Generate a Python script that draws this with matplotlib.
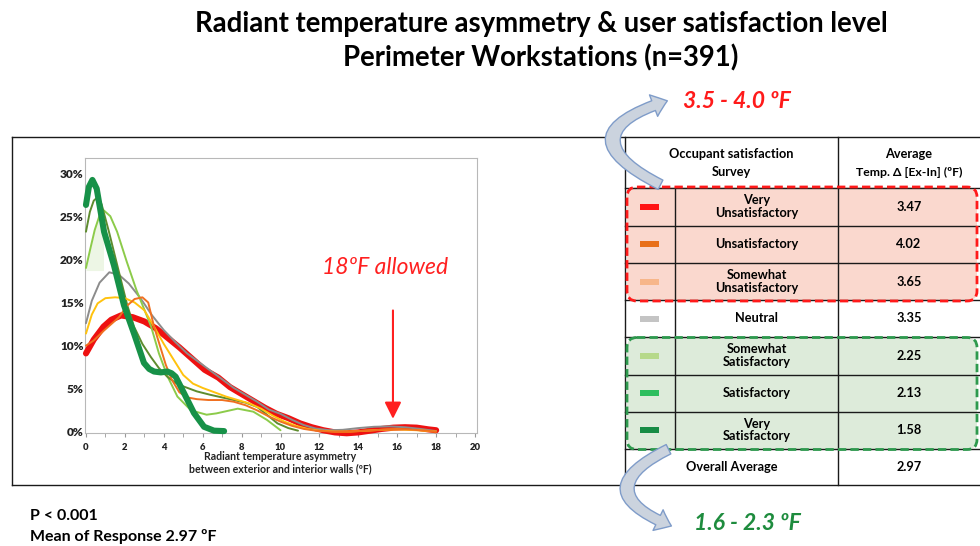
import matplotlib
matplotlib.use("Agg")
import matplotlib.pyplot as plt
from matplotlib.patches import FancyBboxPatch, FancyArrowPatch, Rectangle

plt.rcParams['font.family'] = ['Lato', 'DejaVu Sans']

# ---- density curves (x in degF, y in %) ----
x_very_unsat = [0, 0.4, 0.9, 1.3, 1.8, 2.4, 3.0, 3.6, 4.2, 4.8, 5.5, 6.1, 6.8, 7.4, 8.0, 8.6,
                9.2, 9.8, 10.4, 11.0, 11.6, 12.2, 12.8, 13.4, 14.0, 14.6, 15.2, 15.8, 16.4,
                17.0, 17.6, 18.0]
y_very_unsat = [9.1, 10.7, 12.2, 13.0, 13.5, 13.3, 12.8, 12.0, 10.9, 9.8, 8.4, 7.2, 6.3, 5.2,
                4.4, 3.6, 2.8, 2.1, 1.6, 1.0, 0.55, 0.2, -0.05, -0.15, -0.05, 0.15, 0.35, 0.5,
                0.55, 0.5, 0.3, 0.2]

x_unsat = [0, 0.4, 0.9, 1.3, 1.7, 2.1, 2.5, 2.9, 3.2, 3.5, 3.8, 4.1, 4.4, 4.8, 5.2, 5.7, 6.3,
           7.0, 7.6, 8.2, 8.8, 9.4, 10.0, 10.6, 11.2, 11.8, 12.6, 13.5, 14.5, 15.5, 16.5,
           17.5, 18.0]
y_unsat = [10.0, 10.6, 11.7, 12.5, 13.3, 14.6, 15.4, 15.6, 15.0, 12.2, 10.0, 7.8, 6.1, 4.6,
           4.0, 3.8, 3.7, 3.7, 3.5, 3.1, 2.5, 1.8, 1.2, 0.7, 0.35, 0.15, 0.05, 0.05, 0.15,
           0.3, 0.3, 0.15, 0.05]

x_smw_unsat = [0, 0.3, 0.6, 1.0, 1.5, 2.0, 2.5, 3.0, 3.5, 4.0, 4.5, 5.0, 5.5, 6.0, 6.6, 7.2,
               7.8, 8.4, 9.0, 9.6, 10.2, 10.8, 11.4, 12.0, 12.8, 13.6, 14.4, 15.2, 16.0,
               17.0, 18.0]
y_smw_unsat = [11.4, 13.6, 14.9, 15.5, 15.6, 15.5, 15.0, 14.1, 12.2, 10.2, 8.4, 6.6, 5.6,
               5.1, 4.6, 4.1, 3.7, 3.3, 2.7, 1.9, 1.2, 0.7, 0.35, 0.15, 0.05, 0.05, 0.15,
               0.25, 0.3, 0.2, 0.05]

x_neutral = [0, 0.3, 0.7, 1.2, 1.7, 2.2, 2.8, 3.4, 4.0, 4.6, 5.2, 5.8, 6.4, 7.0, 7.6, 8.2,
             8.8, 9.4, 10.0, 10.6, 11.2, 11.8, 12.5, 13.2, 14.0, 14.8, 15.6, 16.4, 17.2, 18.0]
y_neutral = [12.6, 15.2, 17.3, 18.5, 18.2, 17.2, 15.5, 13.5, 11.8, 10.4, 9.1, 8.1, 7.1, 6.1,
             5.1, 4.3, 3.5, 2.6, 2.1, 1.4, 0.8, 0.4, 0.2, 0.25, 0.45, 0.6, 0.65, 0.55, 0.35,
             0.1]

x_smw_sat = [0, 0.2, 0.45, 0.7, 0.9, 1.25, 1.6, 2.1, 2.6, 3.05, 3.35, 3.75, 4.2, 4.7, 5.4,
             6.2, 6.7, 7.1, 7.8, 8.6, 9.3, 10.0]
y_smw_sat = [19.0, 21.0, 23.4, 25.1, 25.7, 25.0, 23.2, 19.7, 16.4, 13.9, 12.2, 9.1, 6.4,
             4.1, 2.5, 2.0, 2.15, 2.35, 2.7, 2.35, 1.4, 0.2]

x_sat = [0, 0.2, 0.4, 0.55, 0.8, 1.18, 1.61, 2.12, 2.47, 2.9, 3.33, 3.75, 4.18, 4.6, 5.04,
         5.7, 6.4, 7.0, 7.6, 8.2, 8.8, 9.3, 9.84, 10.4, 10.9]
y_sat = [23.2, 25.5, 26.8, 27.1, 26.4, 23.2, 19.3, 14.7, 12.2, 10.2, 8.7, 7.4, 6.4, 5.7,
         5.25, 4.7, 4.3, 4.0, 3.7, 3.4, 2.9, 2.0, 1.0, 0.45, 0.15]

x_very_sat = [0, 0.15, 0.33, 0.55, 0.93, 1.44, 1.95, 2.47, 2.98, 3.25, 3.5, 3.85, 4.18, 4.4,
              4.61, 5.04, 5.55, 6.07, 6.58, 7.1]
y_very_sat = [26.3, 28.4, 29.2, 28.2, 23.2, 19.3, 14.7, 11.4, 8.0, 7.3, 7.0, 6.9, 7.0, 6.8,
              6.4, 4.5, 2.2, 0.6, 0.15, 0.1]

# ---- table ----
categories = ["Very\nUnsatisfactory", "Unsatisfactory", "Somewhat\nUnsatisfactory", "Neutral",
              "Somewhat\nSatisfactory", "Satisfactory", "Very\nSatisfactory"]
avg_temp = [3.47, 4.02, 3.65, 3.35, 2.25, 2.13, 1.58]
overall_avg = 2.97
swatch_colors = ['#FF1414', '#E8701A', '#F7B68A', '#C4C4C4', '#B6D98A', '#2DBE5E', '#178C45']

curves = [
    (x_very_unsat, y_very_unsat, '#EE1111', 4.4),
    (x_neutral, y_neutral, '#8C8C8C', 1.4),
    (x_smw_sat, y_smw_sat, '#8CCB4A', 1.4),
    (x_sat, y_sat, '#5E8C2E', 1.4),
    (x_smw_unsat, y_smw_unsat, '#FFC20E', 1.4),
    (x_unsat, y_unsat, '#F07020', 1.4),
    (x_very_sat, y_very_sat, '#179148', 4.4),
]

W, H = 980, 546
fig = plt.figure(figsize=(W / 100, H / 100), dpi=100)

bg = fig.add_axes([0, 0, 1, 1])
bg.set_xlim(0, W)
bg.set_ylim(H, 0)
bg.axis('off')

# title
bg.text(541, 24, "Radiant temperature asymmetry & user satisfaction level",
        ha='center', va='center', fontsize=19.8, fontweight='bold')
bg.text(541, 58, "Perimeter Workstations (n=391)",
        ha='center', va='center', fontsize=19.8, fontweight='bold')

# ---- chart ----
left, right, top, bottom = 85, 477, 158, 433
ax = fig.add_axes([left / W, 1 - bottom / H, (right - left) / W, (bottom - top) / H])
ax.set_xlim(-0.05, 20.1)
ax.set_ylim(-0.12, 31.74)

# faint fill seen under the light-green curve
ax.fill_between(x_smw_sat[:5], 18.7, y_smw_sat[:5], color='#EDF6E5', zorder=1, lw=0)

for xs, ys, c, lw in curves:
    ax.plot(xs, ys, color=c, lw=lw, solid_capstyle='round', solid_joinstyle='round',
            zorder=3, clip_on=False)

for s in ax.spines.values():
    s.set_color('#B8B8B8')
    s.set_linewidth(0.8)
ax.set_xticks(range(0, 21, 2))
ax.set_xticks(range(1, 21, 2), minor=True)
ax.set_yticks(range(0, 31, 5))
ax.set_yticklabels([f"{v}%" for v in range(0, 31, 5)])
ax.tick_params(axis='x', which='both', length=3, color='#999999', pad=4,
               labelsize=6.8, direction='out')
ax.tick_params(axis='y', length=0, pad=1, labelsize=8.6)
for lab in ax.get_xticklabels() + ax.get_yticklabels():
    lab.set_fontweight('heavy')
    lab.set_color('#222222')

ax.annotate("", xy=(15.78, 1.2), xytext=(15.78, 14.4),
            arrowprops=dict(arrowstyle='-|>,head_width=0.5,head_length=1.0',
                            color='#FF2020', lw=1.5))
ax.text(15.35, 19.0, "18ºF allowed", color='#FF2020', fontsize=16.5, style='italic',
        ha='center', va='center')

bg.text(280, 456, "Radiant temperature asymmetry", ha='center', va='center',
        fontsize=7.6, fontweight='bold', color='#222222')
bg.text(280, 469, "between exterior and interior walls (ºF)", ha='center', va='center',
        fontsize=7.6, fontweight='bold', color='#222222')

bg.text(30, 516, "P < 0.001", ha='left', va='center', fontsize=11.5, fontweight='bold')
bg.text(30, 537, "Mean of Response 2.97 ºF", ha='left', va='center', fontsize=11.5,
        fontweight='bold')

# ---- frame and table ----
lc = '#1A1A1A'
lwid = 1.0
row_edges = [188, 225.5, 263, 300, 337, 374.5, 411.5, 448.5, 485]
c0, c1, c2, c3 = 625, 675, 838, 980

# shaded groups (drawn under the grid)
bg.add_patch(FancyBboxPatch((627, 187), 350, 114, boxstyle="round,pad=0,rounding_size=10",
                            facecolor='#FAD8CE', edgecolor='none', zorder=1))
bg.add_patch(FancyBboxPatch((627, 337.5), 350, 112, boxstyle="round,pad=0,rounding_size=10",
                            facecolor='#DDEBDA', edgecolor='none', zorder=1))

bg.plot([12, W], [137, 137], color=lc, lw=lwid, zorder=2)
bg.plot([12, W], [485, 485], color=lc, lw=lwid, zorder=2)
bg.plot([12, 12], [137, 485], color=lc, lw=lwid, zorder=2)
for xv in (c0, c2):
    bg.plot([xv, xv], [137, 485], color=lc, lw=lwid, zorder=2)
bg.plot([c1, c1], [row_edges[0], row_edges[-2]], color=lc, lw=lwid, zorder=2)
for yv in row_edges[:-1]:
    bg.plot([c0, c3], [yv, yv], color=lc, lw=lwid, zorder=2)

tfs = 9.2
bg.text((c0 + c2) / 2, 154, "Occupant satisfaction", ha='center', va='center',
        fontsize=tfs, fontweight='bold', zorder=4)
bg.text((c0 + c2) / 2, 172, "Survey", ha='center', va='center', fontsize=tfs,
        fontweight='bold', zorder=4)
bg.text((c2 + c3) / 2, 154, "Average", ha='center', va='center', fontsize=tfs,
        fontweight='bold', zorder=4)
bg.text((c2 + c3) / 2, 172, "Temp. Δ [Ex-In] (ºF)", ha='center', va='center',
        fontsize=tfs - 0.4, fontweight='bold', zorder=4)

for i, (cat, val, sc) in enumerate(zip(categories, avg_temp, swatch_colors)):
    yc = (row_edges[i] + row_edges[i + 1]) / 2
    bg.add_patch(Rectangle((640, yc - 3), 19, 6, facecolor=sc, edgecolor='none', zorder=4))
    bg.text((c1 + c2) / 2, yc, cat, ha='center', va='center', fontsize=tfs,
            fontweight='bold', linespacing=1.1, zorder=4)
    bg.text((c2 + c3) / 2, yc, f"{val:.2f}", ha='center', va='center', fontsize=tfs,
            fontweight='bold', zorder=4)

yc = (row_edges[-2] + row_edges[-1]) / 2
bg.text((c0 + c2) / 2, yc, "Overall Average", ha='center', va='center', fontsize=tfs,
        fontweight='bold', zorder=4)
bg.text((c2 + c3) / 2, yc, f"{overall_avg:.2f}", ha='center', va='center', fontsize=tfs,
        fontweight='bold', zorder=4)

# dashed group outlines
bg.add_patch(FancyBboxPatch((627, 187), 350, 114, boxstyle="round,pad=0,rounding_size=10",
                            facecolor='none', edgecolor='#FF1A1A', lw=2.0,
                            linestyle=(0, (3, 1.5)), zorder=5))
bg.add_patch(FancyBboxPatch((627, 337.5), 350, 112, boxstyle="round,pad=0,rounding_size=10",
                            facecolor='none', edgecolor='#2E9A4E', lw=2.0,
                            linestyle=(0, (3, 1.5)), zorder=5))

# curved callout arrows
astyle = "simple,head_length=0.7,head_width=1.1,tail_width=0.5"
bg.add_patch(FancyArrowPatch((663, 186), (670, 100), connectionstyle="arc3,rad=-1.25",
                             arrowstyle=astyle, mutation_scale=15, facecolor='#CBD3DE',
                             edgecolor='#7F9CC9', lw=1.0, zorder=6))
bg.add_patch(FancyArrowPatch((671, 448), (674, 527), connectionstyle="arc3,rad=1.15",
                             arrowstyle=astyle, mutation_scale=15, facecolor='#CBD3DE',
                             edgecolor='#7F9CC9', lw=1.0, zorder=6))

bg.text(683, 101, "3.5 - 4.0 ºF", ha='left', va='center', fontsize=16.5, fontweight='bold',
        style='italic', color='#FF1A1A')
bg.text(694, 524, "1.6 - 2.3 ºF", ha='left', va='center', fontsize=16.5, fontweight='bold',
        style='italic', color='#1E8C3E')

fig.savefig("out.png", dpi=100)
